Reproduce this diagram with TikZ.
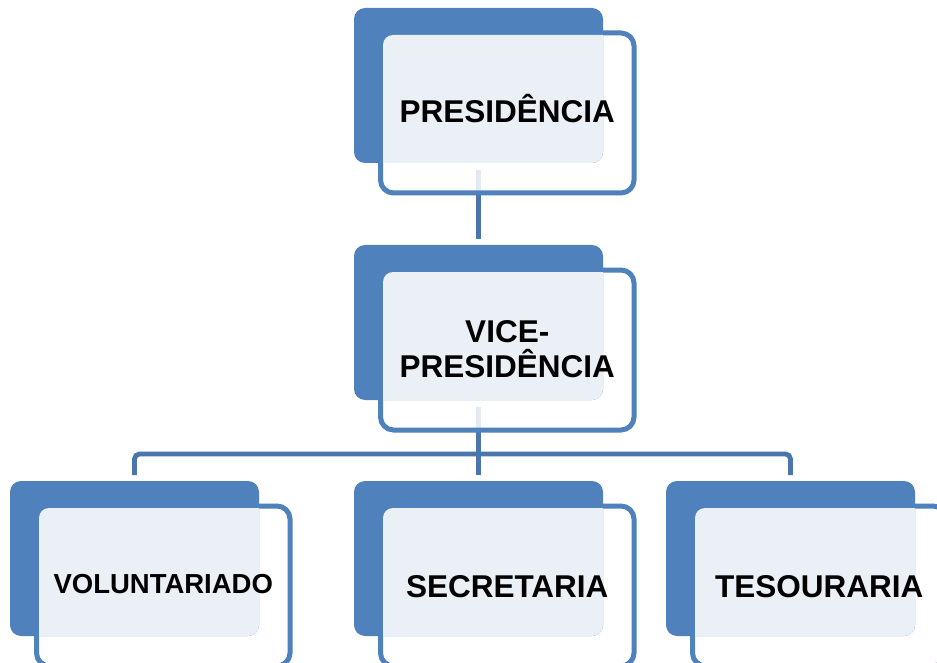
\documentclass[tikz,border=0pt]{standalone}
\usepackage{fontspec}
\setmainfont{Liberation Sans}
\definecolor{accent}{HTML}{4F81BD}
\definecolor{conncol}{HTML}{4A76AD}
\definecolor{lightfill}{HTML}{EBF0F7}
\newcommand\lightpanel[2]{%
  \begin{scope}
    \clip[rounded corners=11pt] (#1,#2) rectangle ++(249,155);
    \fill[lightfill] (#1+29,#2+160) [rounded corners=10pt] -- (#1+29,#2+27) [sharp corners] -- (#1+260,#2+27) -- (#1+260,#2+160) -- cycle;
  \end{scope}}
\begin{document}
\begin{tikzpicture}[x=1pt,y=-1pt,
  backbox/.style={fill=accent, rounded corners=11pt, minimum width=249pt, minimum height=155pt, inner sep=0pt, outer sep=0pt},
  framebox/.style={draw=accent, line width=5pt, fill=white, fill opacity=0.85, rounded corners=13pt, minimum width=253.5pt, minimum height=160pt, inner sep=0pt, outer sep=0pt},
  lbl/.style={font=\bfseries\fontsize{31.5}{35}\selectfont, align=center, text=black, inner sep=0pt},
  smalllbl/.style={font=\bfseries\fontsize{27.5}{32}\selectfont, text=black, inner sep=0pt},
  conn/.style={draw=conncol, line width=4.8pt}]
\useasboundingbox (0,0) rectangle (937,663);
\clip (0,0) rectangle (937,663);
\fill[white] (0,0) rectangle (937,663);
% positions of the back boxes
\path
  (478.5,85.5)  node[backbox, fill=none] (bP) {}
  (478.5,322.5) node[backbox, fill=none] (bV) {}
  (134.5,558.5) node[backbox, fill=none] (bL) {}
  (478.5,558.5) node[backbox, fill=none] (bM) {}
  (790.5,558.5) node[backbox, fill=none] (bR) {};
\coordinate (bar) at (478.5,454);
% connectors
\draw[conn, shorten <=7pt, shorten >=6pt] (bP) -- (bV);
\draw[conn, shorten <=7pt, shorten >=6pt] (bV) -- (bM);
\draw[conn, rounded corners=5pt] ([yshift=6pt]bL.north) |- (bar) -| ([yshift=6pt]bR.north);
% frames
\node[framebox] (fP) at (507.25,113) {};
\node[framebox] (fV) at (507.25,350) {};
\node[framebox] (fL) at (163.25,586) {};
\node[framebox] (fM) at (507.25,586) {};
\node[framebox] (fR) at (819.25,586) {};
% blue back boxes
\node[backbox] (kP) at (bP) {};
\node[backbox] (kV) at (bV) {};
\node[backbox] (kL) at (bL) {};
\node[backbox] (kM) at (bM) {};
\node[backbox] (kR) at (bR) {};
% light text panels
\lightpanel{354}{8}
\lightpanel{354}{245}
\lightpanel{10}{481}
\lightpanel{354}{481}
\lightpanel{666}{481}
% labels
\node[lbl, anchor=base] (tP) at (507.25,123) {PRESIDÊNCIA};
\node[lbl, anchor=center] (tV) at (507.25,348.75) {VICE-\\PRESIDÊNCIA};
\node[smalllbl, anchor=base] (tL) at (163.25,593) {VOLUNTARIADO};
\node[lbl, anchor=base] (tM) at (507.25,597) {SECRETARIA};
\node[lbl, anchor=base] (tR) at (819.25,597) {TESOURARIA};
\end{tikzpicture}
\end{document}
